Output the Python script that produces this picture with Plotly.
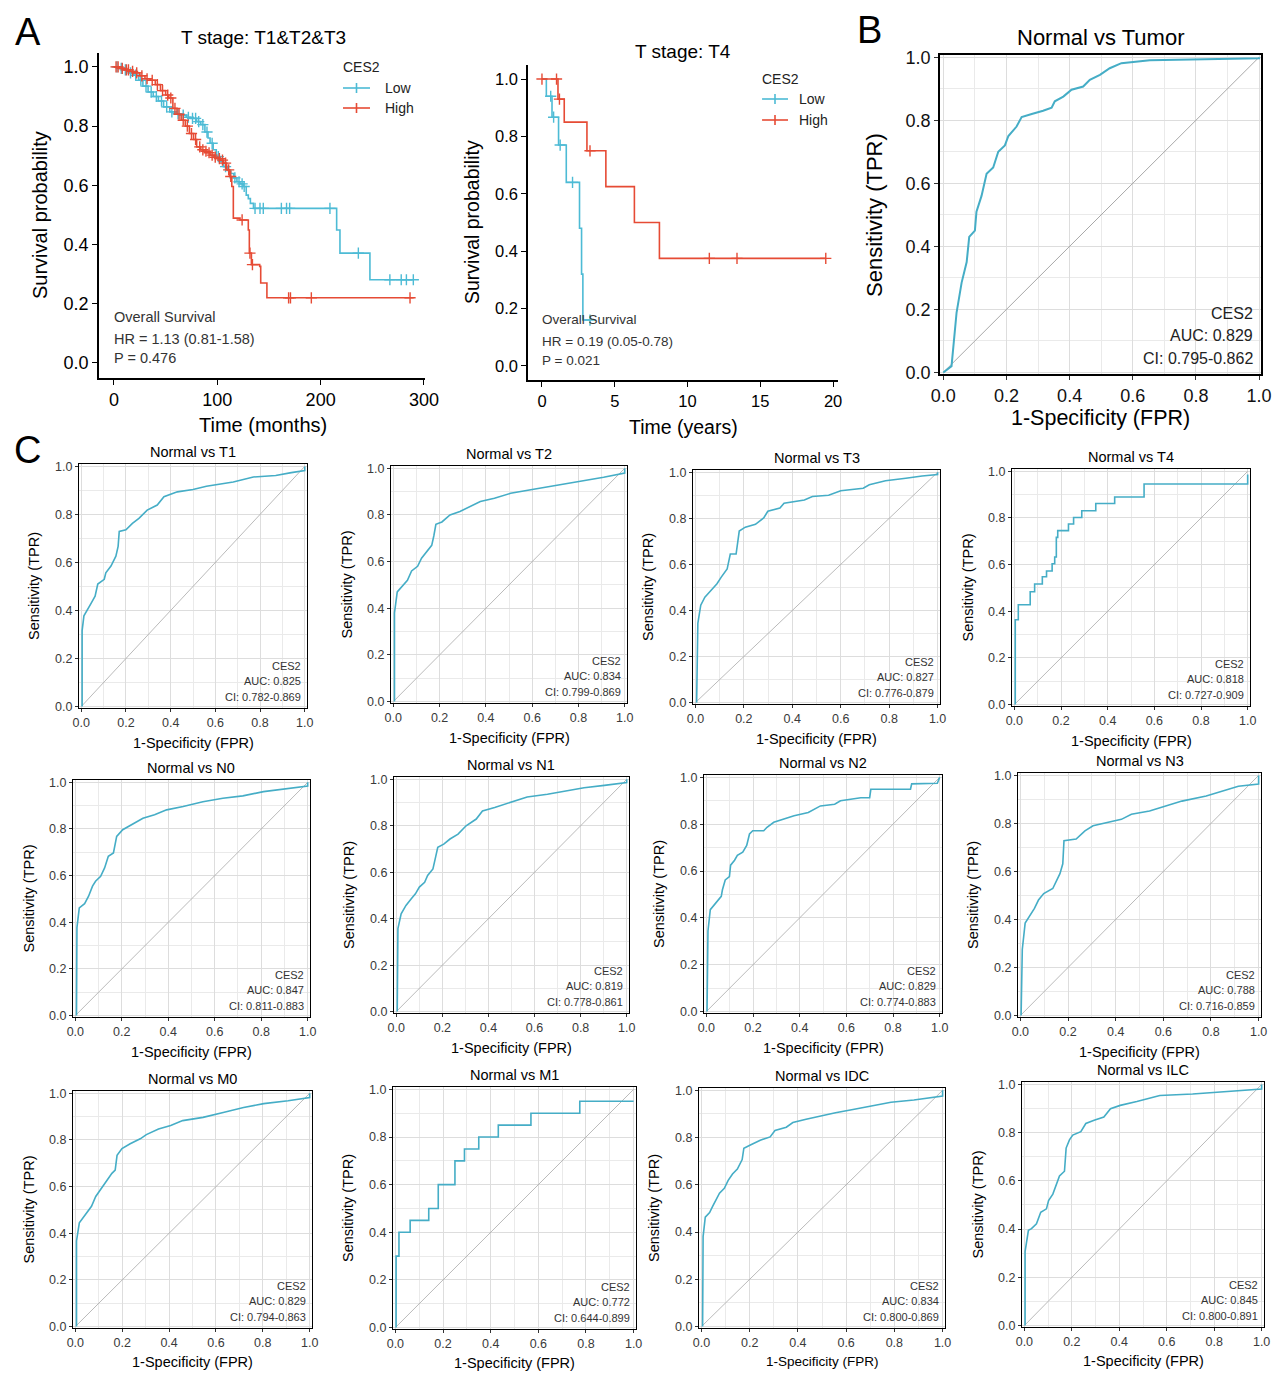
import numpy as np
import plotly.graph_objects as go

# The page body keeps its default 8px margin, so the figure is sized to fill the
# 1284x1379 window exactly and all screen-pixel positions are shifted by OFF.
SCREEN_W, SCREEN_H = 1284, 1379
OFF = 8
W, H = SCREEN_W - 2 * OFF, SCREEN_H - 2 * OFF
FONT = "Liberation Sans, Arial, Helvetica, sans-serif"
C_LOW = "#4DBBD5"
C_HIGH = "#E64B35"
C_ROC = "#45ADC6"
C_DIAG = "#A8A8A8"

# ---------------- Panel A1 : T stage T1&T2&T3 (months) ----------------
a1_low_t = [0, 5, 10, 15, 19, 24, 28, 33, 38, 43, 48, 54, 60, 64, 70, 74, 80, 84, 88, 91, 93, 96, 99,
            103, 106, 110, 113, 116, 119, 122, 125, 128, 130, 132, 135, 215.5, 218.7, 247.7, 289.7]
a1_low_s = [1.0, 0.995, 0.99, 0.98, 0.972, 0.955, 0.935, 0.915, 0.9, 0.885, 0.865, 0.848, 0.842, 0.837,
            0.83, 0.826, 0.815, 0.805, 0.78, 0.76, 0.742, 0.72, 0.697, 0.68, 0.663, 0.65, 0.64, 0.625,
            0.612, 0.605, 0.596, 0.567, 0.555, 0.539, 0.522, 0.449, 0.371, 0.281, 0.281]
a1_low_cens = [3, 7, 11, 16, 21, 26, 31, 36, 41, 46, 51, 56, 62, 67, 72, 76, 79, 82, 86, 90, 95, 101,
               108, 117, 121, 124, 126, 136.5, 141.3, 144.5, 162, 167, 170, 209, 236.5, 267, 278, 283, 289.7]
a1_high_t = [0, 5, 10, 15, 19, 25, 30, 35, 40, 45, 50, 53, 57, 61, 65, 69, 73, 77, 80, 84, 87, 90, 93,
             97, 100, 103, 106, 109, 112, 114, 115.5, 122, 130, 131, 133, 141, 142, 148, 290]
a1_high_s = [1.0, 0.995, 0.99, 0.985, 0.98, 0.97, 0.96, 0.955, 0.94, 0.92, 0.905, 0.895, 0.86, 0.84,
             0.82, 0.8, 0.775, 0.755, 0.73, 0.72, 0.715, 0.71, 0.702, 0.695, 0.69, 0.685, 0.675, 0.652,
             0.63, 0.596, 0.489, 0.483, 0.449, 0.371, 0.332, 0.326, 0.27, 0.22, 0.22]
a1_high_cens = [2, 4, 8, 12, 14, 18, 22, 27, 32, 37, 42, 47, 52, 55, 59, 63, 67, 71, 75, 79, 83, 86, 89,
                92, 95, 98, 102, 105, 108, 111, 113, 124, 131.6, 134, 169, 170.8, 191, 286.5]

# ---------------- Panel A2 : T stage T4 (years) ----------------
a2_low_t = [0, 0.3, 0.69, 1.14, 1.67, 2.58, 2.72, 2.81, 3.3]
a2_low_s = [1.0, 0.94, 0.867, 0.77, 0.64, 0.48, 0.32, 0.16, 0.16]
a2_low_cens = [0.6, 0.8, 1.25, 2.1, 3.3]
a2_high_t = [0, 1.1, 1.53, 3.09, 4.39, 6.35, 8.07, 19.5]
a2_high_s = [1.0, 0.93, 0.85, 0.75, 0.625, 0.5, 0.375, 0.375]
a2_high_cens = [0.0, 1.0, 1.2, 3.3, 11.5, 13.4, 19.5]

# ---------------- Panel B : Normal vs Tumor ROC ----------------
b_fpr = [0, 0.026, 0.042, 0.058, 0.074, 0.082, 0.1, 0.105, 0.121, 0.137, 0.158, 0.174, 0.195, 0.206,
         0.232, 0.248, 0.28, 0.316, 0.343, 0.353, 0.38, 0.406, 0.443, 0.464, 0.496, 0.527, 0.564, 0.654, 1.0, 1.0]
b_tpr = [0, 0.02, 0.19, 0.285, 0.35, 0.43, 0.45, 0.51, 0.56, 0.63, 0.65, 0.70, 0.72, 0.75, 0.78, 0.81,
         0.82, 0.83, 0.84, 0.86, 0.875, 0.897, 0.907, 0.928, 0.944, 0.965, 0.981, 0.99, 0.997, 1.0]

# ---------------- Panel C : small ROC curves ----------------
t1_fpr = [0.004, 0.004, 0.012, 0.027, 0.044, 0.062, 0.074, 0.103, 0.11, 0.133, 0.155, 0.165, 0.17, 0.2,
          0.229, 0.258, 0.295, 0.34, 0.37, 0.43, 0.5, 0.56, 0.68, 0.77, 0.87, 0.94, 1.0, 1.0]
t1_tpr = [0, 0.316, 0.378, 0.4, 0.43, 0.46, 0.51, 0.53, 0.557, 0.585, 0.626, 0.667, 0.729, 0.736, 0.763,
          0.784, 0.818, 0.839, 0.874, 0.894, 0.904, 0.917, 0.935, 0.956, 0.962, 0.974, 0.983, 1.0]
t2_fpr = [0.005, 0.005, 0.017, 0.044, 0.061, 0.079, 0.105, 0.122, 0.149, 0.166, 0.175, 0.184, 0.21,
          0.245, 0.288, 0.332, 0.376, 0.437, 0.507, 0.594, 0.699, 0.804, 0.909, 1.0, 1.0]
t2_tpr = [0, 0.38, 0.47, 0.5, 0.52, 0.56, 0.58, 0.615, 0.65, 0.67, 0.71, 0.76, 0.77, 0.8, 0.815, 0.836,
          0.858, 0.872, 0.893, 0.908, 0.925, 0.943, 0.962, 0.98, 1.0]
t3_fpr = [0.005, 0.01, 0.022, 0.039, 0.064, 0.089, 0.106, 0.131, 0.144, 0.168, 0.181, 0.206, 0.248,
          0.282, 0.299, 0.349, 0.366, 0.45, 0.483, 0.55, 0.6, 0.693, 0.718, 0.785, 0.869, 0.936, 1.0, 1.0]
t3_tpr = [0, 0.344, 0.423, 0.458, 0.487, 0.516, 0.544, 0.58, 0.645, 0.645, 0.745, 0.762, 0.774, 0.802,
          0.831, 0.845, 0.866, 0.88, 0.895, 0.9, 0.92, 0.931, 0.946, 0.963, 0.974, 0.984, 0.99, 1.0]
t4_fpr = [0.004, 0.004, 0.017, 0.068, 0.087, 0.12, 0.138, 0.162, 0.173, 0.18, 0.186, 0.232, 0.254,
          0.289, 0.349, 0.43, 0.556, 1.0]
t4_tpr = [0, 0.364, 0.428, 0.484, 0.517, 0.548, 0.573, 0.604, 0.633, 0.717, 0.746, 0.774, 0.802, 0.831,
          0.862, 0.89, 0.946, 0.986]
n0_fpr = [0.005, 0.007, 0.017, 0.04, 0.057, 0.074, 0.087, 0.109, 0.126, 0.142, 0.164, 0.178, 0.204,
          0.239, 0.291, 0.341, 0.393, 0.464, 0.549, 0.635, 0.721, 0.81, 0.896, 1.0, 1.0]
n0_tpr = [0, 0.377, 0.462, 0.48, 0.512, 0.555, 0.576, 0.597, 0.633, 0.683, 0.697, 0.768, 0.797, 0.818,
          0.846, 0.861, 0.882, 0.896, 0.917, 0.932, 0.942, 0.96, 0.97, 0.984, 1.0]
n1_fpr = [0.004, 0.007, 0.021, 0.042, 0.065, 0.083, 0.1, 0.123, 0.136, 0.159, 0.171, 0.18, 0.206, 0.233,
          0.268, 0.303, 0.347, 0.374, 0.427, 0.48, 0.515, 0.568, 0.656, 0.744, 0.815, 0.903, 1.0, 1.0]
n1_tpr = [0, 0.357, 0.421, 0.457, 0.486, 0.507, 0.536, 0.557, 0.586, 0.614, 0.667, 0.707, 0.721, 0.743,
          0.764, 0.8, 0.829, 0.864, 0.879, 0.896, 0.907, 0.924, 0.936, 0.95, 0.964, 0.974, 0.986, 1.0]
n2_fpr = [0.003, 0.007, 0.017, 0.042, 0.064, 0.069, 0.081, 0.099, 0.104, 0.121, 0.133, 0.156, 0.173,
          0.185, 0.199, 0.246, 0.26, 0.289, 0.333, 0.376, 0.437, 0.489, 0.55, 0.575, 0.662, 0.7, 0.705,
          0.875, 0.88, 0.99, 1.0]
n2_tpr = [0, 0.344, 0.435, 0.463, 0.492, 0.52, 0.562, 0.576, 0.625, 0.646, 0.667, 0.681, 0.709, 0.758,
          0.772, 0.772, 0.787, 0.808, 0.822, 0.836, 0.85, 0.878, 0.885, 0.9, 0.913, 0.913, 0.949, 0.949,
          0.972, 0.975, 1.0]
n3_fpr = [0.003, 0.008, 0.02, 0.042, 0.059, 0.076, 0.098, 0.136, 0.153, 0.166, 0.178, 0.183, 0.234,
          0.271, 0.305, 0.373, 0.424, 0.466, 0.542, 0.61, 0.678, 0.78, 0.847, 0.915, 1.0, 1.0]
n3_tpr = [0, 0.275, 0.385, 0.419, 0.446, 0.481, 0.508, 0.529, 0.563, 0.591, 0.632, 0.728, 0.735, 0.769,
          0.79, 0.804, 0.817, 0.838, 0.852, 0.873, 0.893, 0.914, 0.934, 0.955, 0.964, 1.0]
m0_fpr = [0.005, 0.005, 0.017, 0.043, 0.069, 0.087, 0.112, 0.133, 0.156, 0.17, 0.178, 0.199, 0.234,
          0.277, 0.303, 0.355, 0.407, 0.458, 0.545, 0.631, 0.718, 0.804, 0.908, 1.0, 1.0]
m0_tpr = [0, 0.367, 0.445, 0.48, 0.516, 0.558, 0.593, 0.621, 0.657, 0.671, 0.734, 0.763, 0.784, 0.805,
          0.823, 0.847, 0.862, 0.883, 0.897, 0.918, 0.939, 0.956, 0.968, 0.982, 1.0]
m1_fpr = [0.003, 0.003, 0.015, 0.062, 0.14, 0.18, 0.25, 0.29, 0.35, 0.432, 0.569, 0.774, 1.0]
m1_tpr = [0, 0.3, 0.4, 0.45, 0.5, 0.6, 0.7, 0.75, 0.8, 0.85, 0.9, 0.95, 0.95]
idc_fpr = [0.005, 0.007, 0.016, 0.034, 0.047, 0.061, 0.075, 0.095, 0.111, 0.129, 0.149, 0.169, 0.176,
           0.203, 0.244, 0.285, 0.305, 0.352, 0.379, 0.434, 0.488, 0.556, 0.623, 0.705, 0.786, 0.881, 1.0, 1.0]
idc_tpr = [0, 0.381, 0.463, 0.483, 0.51, 0.537, 0.565, 0.585, 0.619, 0.646, 0.667, 0.707, 0.755, 0.769,
           0.789, 0.803, 0.83, 0.844, 0.864, 0.878, 0.891, 0.905, 0.918, 0.935, 0.95, 0.959, 0.976, 1.0]
ilc_fpr = [0.003, 0.003, 0.017, 0.03, 0.051, 0.069, 0.093, 0.102, 0.12, 0.134, 0.148, 0.169, 0.176, 0.19,
           0.204, 0.238, 0.259, 0.294, 0.335, 0.363, 0.404, 0.474, 0.571, 0.709, 0.848, 0.945, 1.0, 1.0]
ilc_tpr = [0, 0.307, 0.395, 0.402, 0.422, 0.47, 0.484, 0.518, 0.545, 0.586, 0.62, 0.64, 0.736, 0.77,
           0.79, 0.804, 0.838, 0.851, 0.865, 0.899, 0.913, 0.929, 0.954, 0.96, 0.97, 0.978, 0.981, 1.0]

roc_titles = ["Normal vs T1", "Normal vs T2", "Normal vs T3", "Normal vs T4",
              "Normal vs N0", "Normal vs N1", "Normal vs N2", "Normal vs N3",
              "Normal vs M0", "Normal vs M1", "Normal vs IDC", "Normal vs ILC"]
roc_auc = ["0.825", "0.834", "0.827", "0.818", "0.847", "0.819", "0.829", "0.788",
           "0.829", "0.772", "0.834", "0.845"]
roc_ci = ["0.782-0.869", "0.799-0.869", "0.776-0.879", "0.727-0.909", "0.811-0.883", "0.778-0.861",
          "0.774-0.883", "0.716-0.859", "0.794-0.863", "0.644-0.899", "0.800-0.869", "0.800-0.891"]
roc_x = [t1_fpr, t2_fpr, t3_fpr, t4_fpr, n0_fpr, n1_fpr, n2_fpr, n3_fpr, m0_fpr, m1_fpr, idc_fpr, ilc_fpr]
roc_y = [t1_tpr, t2_tpr, t3_tpr, t4_tpr, n0_tpr, n1_tpr, n2_tpr, n3_tpr, m0_tpr, m1_tpr, idc_tpr, ilc_tpr]
roc_step = [False, False, False, True, False, False, False, False, False, True, False, False]

# ---------------- layout geometry (screen pixel boxes: left, top, right, bottom) ----------------
box_a1 = (99, 53, 425, 378)
box_a2 = (528, 65, 838, 380)
box_b = (940, 55, 1261, 374)
roc_boxes = [(79, 464, 307, 708), (391, 466, 627, 703), (693, 470, 940, 704), (1012, 469, 1250, 706),
             (73, 780, 310, 1017), (394, 777, 629, 1013), (704, 775, 942, 1013), (1018, 773, 1261, 1017),
             (73, 1091, 312, 1328), (393, 1087, 636, 1329), (699, 1088, 945, 1328), (1022, 1082, 1264, 1327)]
roc_xlab_dy = [35, 35, 35, 35, 35, 35, 35, 35, 34, 34, 33, 34]
roc_xlab_size = [14.5] * 10 + [13.5, 14.5]

fig = go.Figure()
layout = {}
annotations = []
shapes = []


def PX(x):
    return (x - OFF) / W


def PY(y):
    return 1 - (y - OFF) / H


def text(s, x, y, size, color="#000000", xanchor="center", yanchor="middle", angle=0):
    annotations.append(dict(text=s, x=PX(x), y=PY(y), xref="paper", yref="paper", showarrow=False,
                            xanchor=xanchor, yanchor=yanchor, textangle=angle,
                            font=dict(family=FONT, size=size, color=color)))


def pline(x0, y0, x1, y1, color, width):
    shapes.append(dict(type="line", xref="paper", yref="paper", x0=PX(x0), y0=PY(y0), x1=PX(x1), y1=PY(y1),
                       line=dict(color=color, width=width)))


def axes(n, box, xr, yr, style, xdt, ydt, xfmt, yfmt, tsize, tcolor):
    l, t, r, b = box
    xa = "xaxis" if n == 1 else f"xaxis{n}"
    ya = "yaxis" if n == 1 else f"yaxis{n}"
    xid = "x" if n == 1 else f"x{n}"
    yid = "y" if n == 1 else f"y{n}"
    common = dict(showline=True, linecolor="black", ticks="outside", zeroline=False, fixedrange=True,
                  automargin=False,
                  tickfont=dict(family=FONT, size=tsize, color=tcolor), tickmode="linear", tick0=0)
    if style == "km":
        common.update(linewidth=1.6, ticklen=5, tickwidth=1.4, tickcolor="black", showgrid=False, mirror=False)
    else:
        lw = 1.8 if style == "big" else 1.3
        common.update(linewidth=lw, mirror=True, ticklen=4 if style == "big" else 3,
                      tickwidth=1.2 if style == "big" else 1, tickcolor="#333333",
                      showgrid=True, gridcolor="#DDDDDD", gridwidth=1.3 if style == "big" else 1.1,
                      minor=dict(tickmode="linear", tick0=0, dtick=0.1, showgrid=True,
                                 gridcolor="#EAEAEA", gridwidth=0.8, ticks=""))
    layout[xa] = dict(domain=[PX(l), PX(r)], range=xr, anchor=yid, dtick=xdt, tickformat=xfmt, **common)
    layout[ya] = dict(domain=[PY(b), PY(t)], range=yr, anchor=xid, dtick=ydt, tickformat=yfmt, **common)
    return xid, yid


def step_at(times, surv, c):
    idx = np.searchsorted(np.asarray(times), np.asarray(c), side="right") - 1
    return np.asarray(surv)[idx]


def km_group(xid, yid, times, surv, cens, color):
    fig.add_trace(go.Scatter(x=times, y=surv, mode="lines", line=dict(color=color, width=1.6, shape="hv"),
                             xaxis=xid, yaxis=yid, showlegend=False, hoverinfo="skip"))
    fig.add_trace(go.Scatter(x=cens, y=step_at(times, surv, cens), mode="markers",
                             marker=dict(symbol="cross-thin", size=8, line=dict(color=color, width=1.4)),
                             xaxis=xid, yaxis=yid, showlegend=False, hoverinfo="skip"))


def km_legend(x_line0, x_line1, x_text, y_title, y_low, y_high, size):
    text("CES2", x_line0 - 2, y_title, size, "#222222", xanchor="left")
    for yy, col, lab in [(y_low, C_LOW, "Low"), (y_high, C_HIGH, "High")]:
        pline(x_line0, yy, x_line1, yy, col, 1.6)
        xm = (x_line0 + x_line1) / 2
        pline(xm, yy - 5, xm, yy + 5, col, 1.6)
        text(lab, x_text, yy, size, "#222222", xanchor="left")


# ---- A1 ----
xid, yid = axes(1, box_a1, [-14.5, 301], [-0.051, 1.047], "km", 100, 0.2, "d", ".1f", 18, "black")
km_group(xid, yid, a1_low_t, a1_low_s, a1_low_cens, C_LOW)
km_group(xid, yid, a1_high_t, a1_high_s, a1_high_cens, C_HIGH)
text("T stage: T1&amp;T2&amp;T3", 263, 38, 19)
text("Survival probability", 40, 215, 20, angle=-90)
text("Time (months)", 263, 425, 20)
text("Overall Survival", 112, 317, 14.5, "#333333", xanchor="left")
text("HR = 1.13 (0.81-1.58)", 112, 339, 14.5, "#333333", xanchor="left")
text("P = 0.476", 112, 358, 14.5, "#333333", xanchor="left")
km_legend(343, 370, 383, 67, 88, 108, 14)

# ---- A2 ----
xid, yid = axes(2, box_a2, [-0.96, 20.34], [-0.049, 1.049], "km", 5, 0.2, "d", ".1f", 16.5, "black")
km_group(xid, yid, a2_low_t, a2_low_s, a2_low_cens, C_LOW)
km_group(xid, yid, a2_high_t, a2_high_s, a2_high_cens, C_HIGH)
text("T stage: T4", 683, 52, 19)
text("Survival probability", 472, 222, 19.5, angle=-90)
text("Time (years)", 683, 427, 19.5)
text("Overall Survival", 540, 320, 13.5, "#333333", xanchor="left")
text("HR = 0.19 (0.05-0.78)", 540, 341, 13.5, "#333333", xanchor="left")
text("P = 0.021", 540, 361, 13.5, "#333333", xanchor="left")
km_legend(762, 788, 797, 79, 99, 120, 14)

# ---- B ----
xid, yid = axes(3, box_b, [-0.0105, 1.006], [-0.005, 1.007], "big", 0.2, 0.2, ".1f", ".1f", 18, "#111111")
fig.add_trace(go.Scatter(x=[0, 1], y=[0, 1], mode="lines", line=dict(color=C_DIAG, width=1),
                         xaxis=xid, yaxis=yid, showlegend=False, hoverinfo="skip"))
fig.add_trace(go.Scatter(x=b_fpr, y=b_tpr, mode="lines", line=dict(color=C_ROC, width=2),
                         xaxis=xid, yaxis=yid, showlegend=False, hoverinfo="skip"))
text("Normal vs Tumor", 1100, 38, 22)
text("Sensitivity (TPR)", 875, 215, 22, angle=-90)
text("1-Specificity (FPR)", 1100, 418, 21.5)
text("CES2", 1255, 313, 16, "#222222", xanchor="right")
text("AUC: 0.829", 1255, 335, 16, "#222222", xanchor="right")
text("CI: 0.795-0.862", 1255, 358, 16, "#222222", xanchor="right")

# ---- C ----
for i in range(12):
    l, t, r, b = roc_boxes[i]
    xid, yid = axes(4 + i, roc_boxes[i], [-0.01, 1.01], [-0.006, 1.01], "small", 0.2, 0.2, ".1f", ".1f",
                    12.5, "#3A3A3A")
    fig.add_trace(go.Scatter(x=[0, 1], y=[0, 1], mode="lines", line=dict(color=C_DIAG, width=0.8),
                             xaxis=xid, yaxis=yid, showlegend=False, hoverinfo="skip"))
    fig.add_trace(go.Scatter(x=roc_x[i], y=roc_y[i], mode="lines",
                             line=dict(color=C_ROC, width=1.6, shape="hv" if roc_step[i] else "linear"),
                             xaxis=xid, yaxis=yid, showlegend=False, hoverinfo="skip"))
    cx, cy = (l + r) / 2, (t + b) / 2
    text(roc_titles[i], cx, t - 12, 14.5)
    text("1-Specificity (FPR)", cx, b + roc_xlab_dy[i], roc_xlab_size[i])
    text("Sensitivity (TPR)", l - 45, cy, 14.5, angle=-90)
    text("CES2", r - 4, b - 42, 11, "#333333", xanchor="right")
    text("AUC: " + roc_auc[i], r - 4, b - 27, 11, "#333333", xanchor="right")
    text("CI: " + roc_ci[i], r - 4, b - 11, 11, "#333333", xanchor="right")

# panel letters
text("A", 28, 32, 38)
text("B", 869, 30, 38)
text("C", 27, 450, 38)

fig.update_layout(width=W, height=H, margin=dict(l=0, r=0, t=0, b=0, autoexpand=False),
                  paper_bgcolor="white", plot_bgcolor="white", showlegend=False,
                  annotations=annotations, shapes=shapes, font=dict(family=FONT), **layout)
fig.write_html("out.html", config={"displayModeBar": False})
